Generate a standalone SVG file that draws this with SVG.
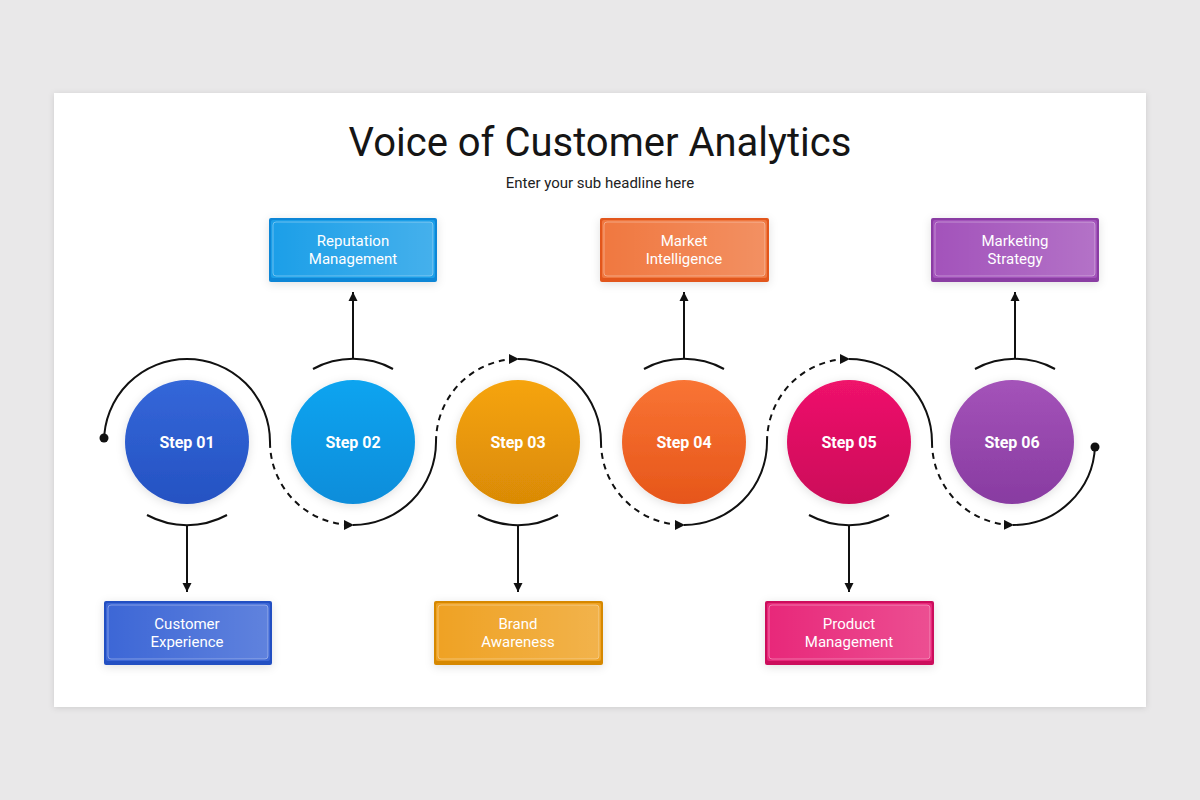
<svg xmlns="http://www.w3.org/2000/svg" width="1200" height="800" viewBox="0 0 1200 800">
<defs>
<style>
.title{font-family:Roboto,"Liberation Sans",sans-serif;font-size:40px;fill:#151515;text-anchor:middle}
.sub{font-family:Roboto,"Liberation Sans",sans-serif;font-size:15px;fill:#222;text-anchor:middle}
.step{font-family:Roboto,"Liberation Sans",sans-serif;font-size:16px;font-weight:bold;fill:#fff;text-anchor:middle}
.lbl{font-family:Roboto,"Liberation Sans",sans-serif;font-size:15px;fill:#fff;text-anchor:middle}
.ln{fill:none;stroke:#111;stroke-width:2}
.dash{fill:none;stroke:#111;stroke-width:2;stroke-dasharray:6 5}
.inner{stroke:#ffffff;stroke-opacity:0.35;stroke-width:1}
</style>
<filter id="sh" x="-30%" y="-30%" width="160%" height="160%">
<feDropShadow dx="0" dy="2" stdDeviation="5" flood-color="#000" flood-opacity="0.12"/>
</filter>
<filter id="card" x="-5%" y="-5%" width="110%" height="110%">
<feDropShadow dx="0" dy="1" stdDeviation="3" flood-color="#000" flood-opacity="0.12"/>
</filter>
<marker id="arr" viewBox="0 0 10 10" refX="9" refY="5" markerWidth="10" markerHeight="10" markerUnits="userSpaceOnUse" orient="auto">
<path d="M0 0 L10 5 L0 10 Z" fill="#111"/>
</marker>
<marker id="arr2" viewBox="0 0 10 10" refX="10" refY="5" markerWidth="9" markerHeight="11" markerUnits="userSpaceOnUse" orient="auto">
<path d="M0 0 L10 5 L0 10 Z" fill="#111"/>
</marker>
<linearGradient id="g1" x1="0" y1="0" x2="0" y2="1"><stop offset="0" stop-color="#3467d9"/><stop offset="1" stop-color="#2552c2"/></linearGradient>
<linearGradient id="g2" x1="0" y1="0" x2="0" y2="1"><stop offset="0" stop-color="#08a4f0"/><stop offset="1" stop-color="#0a8dda"/></linearGradient>
<linearGradient id="g3" x1="0" y1="0" x2="0" y2="1"><stop offset="0" stop-color="#f6a40a"/><stop offset="1" stop-color="#da8a06"/></linearGradient>
<linearGradient id="g4" x1="0" y1="0" x2="0" y2="1"><stop offset="0" stop-color="#f97434"/><stop offset="1" stop-color="#e6561a"/></linearGradient>
<linearGradient id="g5" x1="0" y1="0" x2="0" y2="1"><stop offset="0" stop-color="#ef126b"/><stop offset="1" stop-color="#cb0a59"/></linearGradient>
<linearGradient id="g6" x1="0" y1="0" x2="0" y2="1"><stop offset="0" stop-color="#a453b9"/><stop offset="1" stop-color="#883ba1"/></linearGradient>
<linearGradient id="gl" x1="0" y1="0" x2="1" y2="0"><stop offset="0" stop-color="#fff" stop-opacity="0"/><stop offset="1" stop-color="#fff" stop-opacity="0.18"/></linearGradient>
</defs>

<rect x="0" y="0" width="1200" height="800" fill="#e9e8e9"/>
<rect x="54" y="93" width="1092" height="614" fill="#ffffff" filter="url(#card)"/>

<text class="title" x="600" y="156">Voice of Customer Analytics</text>
<text class="sub" x="600" y="188">Enter your sub headline here</text>

<g id="connectors">
<path class="ln" d="M104 442 A83 83 0 0 1 270 442"/>
<path class="dash" d="M270 442 A83 83 0 0 0 353 525" marker-end="url(#arr)"/>
<path class="ln" d="M353 525 A83 83 0 0 0 436 442"/>
<path class="dash" d="M436 442 A82 83 0 0 1 518 359" marker-end="url(#arr)"/>
<path class="ln" d="M518 359 A83 83 0 0 1 601 442"/>
<path class="dash" d="M601 442 A83 83 0 0 0 684 525" marker-end="url(#arr)"/>
<path class="ln" d="M684 525 A83 83 0 0 0 767 442"/>
<path class="dash" d="M767 442 A82 83 0 0 1 849 359" marker-end="url(#arr)"/>
<path class="ln" d="M849 359 A83 83 0 0 1 932 442"/>
<path class="dash" d="M932 442 A82 83 0 0 0 1013 525" marker-end="url(#arr)"/>
<path class="ln" d="M1013 525 A82 82 0 0 0 1095 446"/>
<circle cx="104" cy="438" r="4.5" fill="#111"/>
<circle cx="1095" cy="447" r="4.5" fill="#111"/>

<path class="ln" d="M147 515 A84 84 0 0 0 227 515"/>
<path class="ln" d="M187 526 L187 592" marker-end="url(#arr2)"/>
<path class="ln" d="M478 515 A84 84 0 0 0 558 515"/>
<path class="ln" d="M518 526 L518 592" marker-end="url(#arr2)"/>
<path class="ln" d="M809 515 A84 84 0 0 0 889 515"/>
<path class="ln" d="M849 526 L849 592" marker-end="url(#arr2)"/>

<path class="ln" d="M313 369 A84 84 0 0 1 393 369"/>
<path class="ln" d="M353 358 L353 292" marker-end="url(#arr2)"/>
<path class="ln" d="M644 369 A84 84 0 0 1 724 369"/>
<path class="ln" d="M684 358 L684 292" marker-end="url(#arr2)"/>
<path class="ln" d="M975 369 A84 84 0 0 1 1055 369"/>
<path class="ln" d="M1015 358 L1015 292" marker-end="url(#arr2)"/>
</g>

<g id="step1"><circle cx="187" cy="442" r="62" fill="url(#g1)" filter="url(#sh)"/><text class="step" x="187" y="448">Step 01</text></g>
<g id="step2"><circle cx="353" cy="442" r="62" fill="url(#g2)" filter="url(#sh)"/><text class="step" x="353" y="448">Step 02</text></g>
<g id="step3"><circle cx="518" cy="442" r="62" fill="url(#g3)" filter="url(#sh)"/><text class="step" x="518" y="448">Step 03</text></g>
<g id="step4"><circle cx="684" cy="442" r="62" fill="url(#g4)" filter="url(#sh)"/><text class="step" x="684" y="448">Step 04</text></g>
<g id="step5"><circle cx="849" cy="442" r="62" fill="url(#g5)" filter="url(#sh)"/><text class="step" x="849" y="448">Step 05</text></g>
<g id="step6"><circle cx="1012" cy="442" r="62" fill="url(#g6)" filter="url(#sh)"/><text class="step" x="1012" y="448">Step 06</text></g>

<g id="box-reputation">
<rect x="269" y="218" width="168" height="64" rx="2" fill="#0b86d6" filter="url(#sh)"/>
<rect x="271" y="220" width="164" height="58" rx="2" fill="#1c9fe8"/>
<rect x="273" y="222" width="160" height="54" rx="3" fill="url(#gl)" class="inner"/>
<text class="lbl" x="353" y="246">Reputation</text><text class="lbl" x="353" y="264">Management</text>
</g>
<g id="box-market">
<rect x="600" y="218" width="169" height="64" rx="2" fill="#e2571c" filter="url(#sh)"/>
<rect x="602" y="220" width="165" height="58" rx="2" fill="#f07840"/>
<rect x="604" y="222" width="161" height="54" rx="3" fill="url(#gl)" class="inner"/>
<text class="lbl" x="684" y="246">Market</text><text class="lbl" x="684" y="264">Intelligence</text>
</g>
<g id="box-marketing">
<rect x="931" y="218" width="168" height="64" rx="2" fill="#8a3ca3" filter="url(#sh)"/>
<rect x="933" y="220" width="164" height="58" rx="2" fill="#a353bb"/>
<rect x="935" y="222" width="160" height="54" rx="3" fill="url(#gl)" class="inner"/>
<text class="lbl" x="1015" y="246">Marketing</text><text class="lbl" x="1015" y="264">Strategy</text>
</g>
<g id="box-customer">
<rect x="104" y="601" width="168" height="64" rx="2" fill="#2450c2" filter="url(#sh)"/>
<rect x="106" y="603" width="164" height="58" rx="2" fill="#3d67d6"/>
<rect x="108" y="605" width="160" height="54" rx="3" fill="url(#gl)" class="inner"/>
<text class="lbl" x="187" y="629">Customer</text><text class="lbl" x="187" y="647">Experience</text>
</g>
<g id="box-brand">
<rect x="434" y="601" width="169" height="64" rx="2" fill="#d68806" filter="url(#sh)"/>
<rect x="436" y="603" width="165" height="58" rx="2" fill="#efa224"/>
<rect x="438" y="605" width="161" height="54" rx="3" fill="url(#gl)" class="inner"/>
<text class="lbl" x="518" y="629">Brand</text><text class="lbl" x="518" y="647">Awareness</text>
</g>
<g id="box-product">
<rect x="765" y="601" width="169" height="64" rx="2" fill="#cc0a5c" filter="url(#sh)"/>
<rect x="767" y="603" width="165" height="58" rx="2" fill="#e8287a"/>
<rect x="769" y="605" width="161" height="54" rx="3" fill="url(#gl)" class="inner"/>
<text class="lbl" x="849" y="629">Product</text><text class="lbl" x="849" y="647">Management</text>
</g>
</svg>
